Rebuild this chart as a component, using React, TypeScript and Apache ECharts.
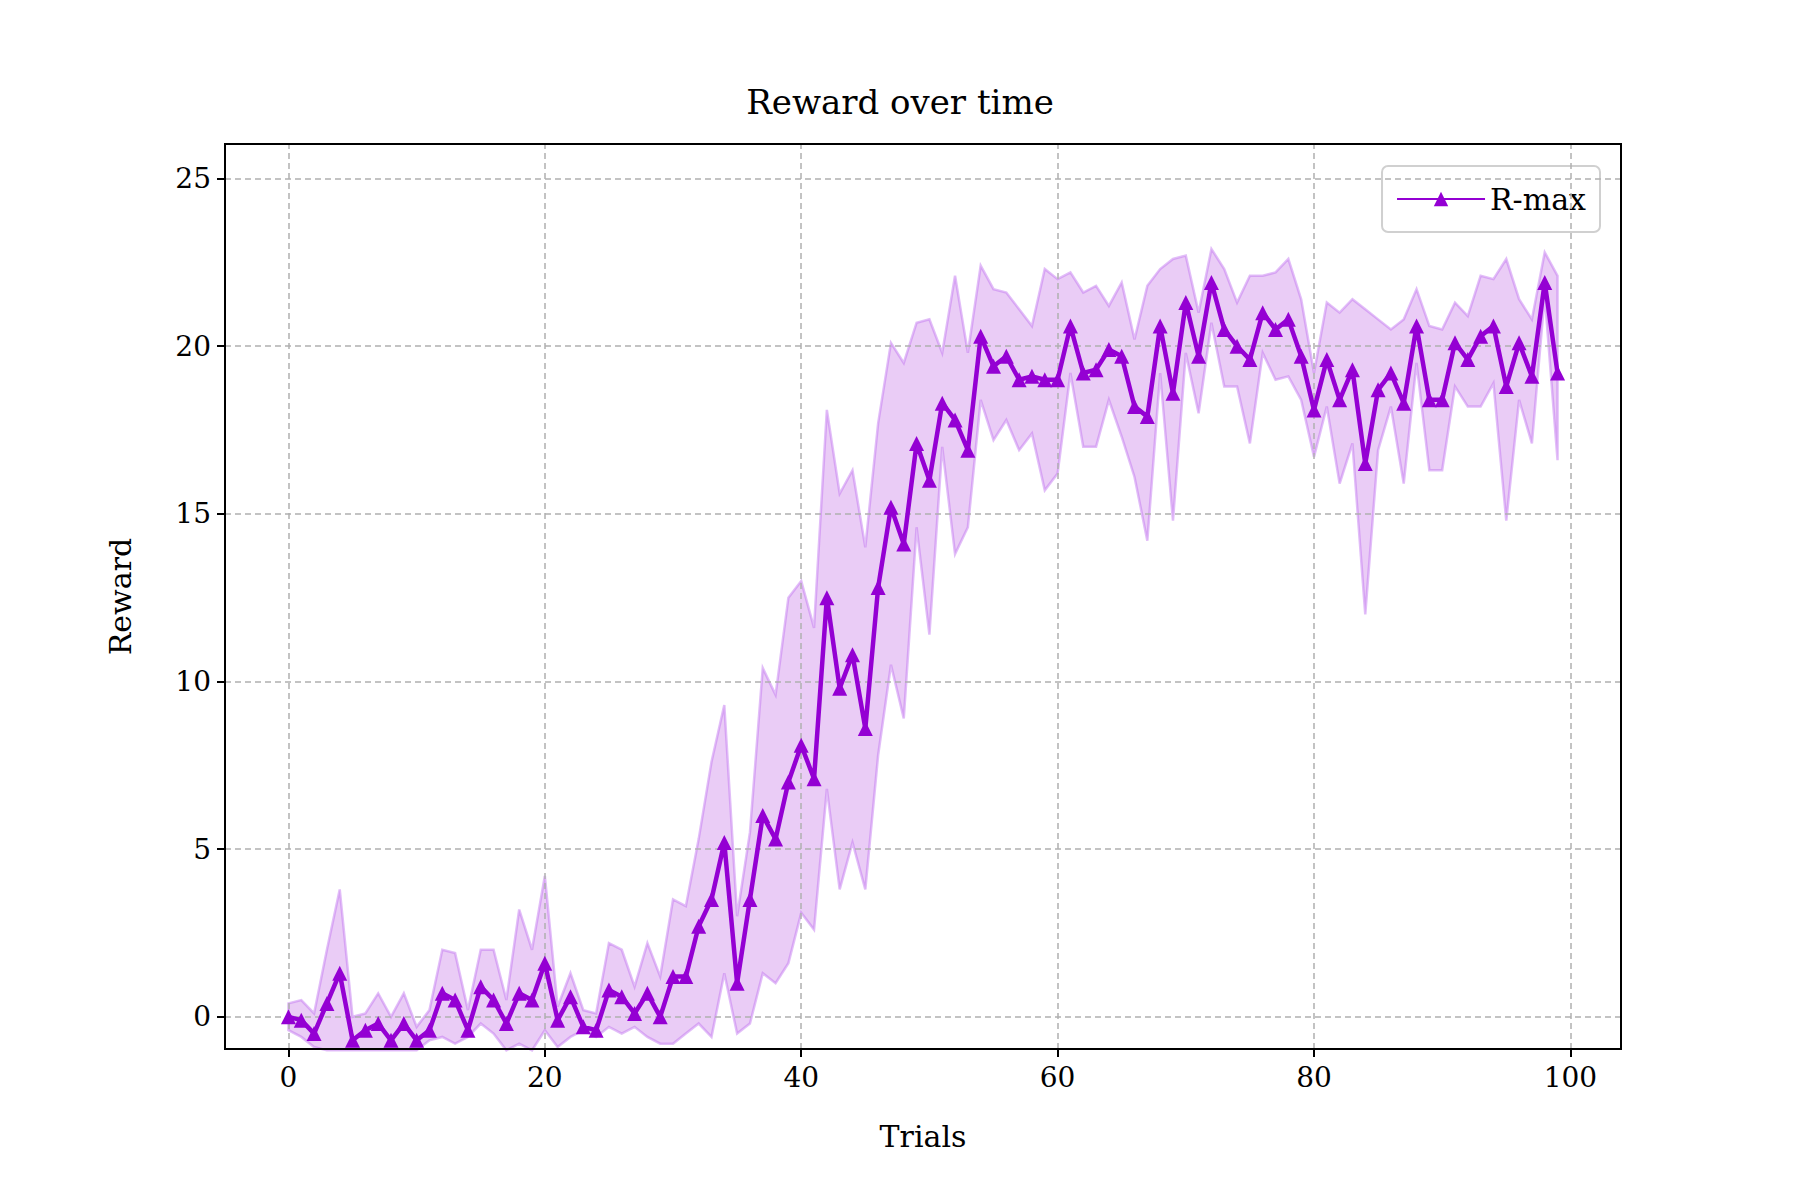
import React, { useEffect, useRef } from "react";
import * as echarts from "echarts";

const trials = Array.from({ length: 100 }, (_, i) => i);
const meanReward = [0,-0.1,-0.5,0.4,1.3,-0.7,-0.4,-0.2,-0.7,-0.2,-0.7,-0.4,0.7,0.5,-0.4,0.9,0.5,-0.2,0.7,0.5,1.6,-0.1,0.6,-0.3,-0.4,0.8,0.6,0.1,0.7,0,1.2,1.2,2.7,3.5,5.2,1.0,3.5,6.0,5.3,7.0,8.1,7.1,12.5,9.8,10.8,8.6,12.8,15.2,14.1,17.1,16.0,18.3,17.8,16.9,20.3,19.4,19.7,19.0,19.1,19.0,19.0,20.6,19.2,19.3,19.9,19.7,18.2,17.9,20.6,18.6,21.3,19.7,21.9,20.5,20.0,19.6,21.0,20.5,20.8,19.7,18.1,19.6,18.4,19.3,16.5,18.7,19.2,18.3,20.6,18.4,18.4,20.1,19.6,20.3,20.6,18.8,20.1,19.1,21.9,19.2];
const upperBand = [0.4,0.5,0.1,2.0,3.8,0,0.1,0.7,0,0.7,-0.3,0.2,2,1.9,0.2,2,2,0.5,3.2,2,4.2,0.3,1.3,0.2,0.1,2.2,2,0.9,2.2,1.2,3.5,3.3,5.3,7.6,9.3,3,5.5,10.4,9.6,12.5,13,11.6,18.1,15.6,16.3,14,17.7,20.1,19.5,20.7,20.8,19.8,22.1,19.8,22.4,21.7,21.6,21.1,20.6,22.3,22,22.2,21.6,21.8,21.2,21.9,20.2,21.8,22.3,22.6,22.7,21,22.9,22.3,21.3,22.1,22.1,22.2,22.6,21.4,19.2,21.3,21,21.4,21.1,20.8,20.5,20.8,21.7,20.6,20.5,21.3,20.9,22.1,22,22.6,21.4,20.8,22.8,22.1];
const lowerBand = [-0.4,-0.6,-0.9,-1,-1,-1,-1,-1,-1,-1,-1,-0.7,-0.6,-0.8,-0.6,-0.2,-0.5,-1,-0.8,-1,-0.4,-0.9,-0.6,-0.4,-0.6,-0.3,-0.5,-0.3,-0.6,-0.8,-0.8,-0.5,-0.2,-0.6,1.3,-0.5,-0.2,1.3,1,1.6,3.1,2.6,6.8,3.8,5.2,3.8,7.8,10.5,8.9,14.6,11.4,17,13.8,14.6,18.4,17.2,17.8,16.9,17.4,15.7,16.2,19.2,17,17,18.4,17.3,16.1,14.2,19.2,14.8,19.8,18,20.7,18.8,18.8,17.1,19.8,19,19.1,18.4,16.7,18.2,15.9,17.1,12,16.9,18.2,15.9,19.5,16.3,16.3,18.8,18.2,18.2,18.9,14.8,18.4,17.1,21.5,16.6];
const xTicks = [0, 20, 40, 60, 80, 100];
const yTicks = [0, 5, 10, 15, 20, 25];

const FONT = "DejaVu Serif";
const MAIN = "#9400d3";
const G = { left: 225, right: 179, top: 144, bottom: 151 };

export default function App() {
  const ref = useRef<HTMLDivElement>(null);
  useEffect(() => {
    document.body.style.margin = "0";
    const chart = echarts.init(ref.current!, null, { renderer: "svg" });
    const pair = (arr: number[]) => trials.map((t, i) => [t, arr[i]]);
    const gridStyle = { color: "#b0b0b0", type: [6, 4], width: 1.5 };
    chart.setOption({
      animation: false,
      backgroundColor: "#fff",
      title: {
        text: "Reward over time",
        left: "center",
        top: 80,
        textStyle: { fontFamily: FONT, fontSize: 34, fontWeight: "normal", color: "#000" },
      },
      legend: {
        data: ["R-max"],
        right: 200,
        top: 166,
        padding: [18, 14, 18, 14],
        borderColor: "#d0d0d0",
        borderWidth: 2,
        borderRadius: 6,
        itemWidth: 88,
        itemHeight: 18,
        textStyle: { fontFamily: FONT, fontSize: 30, color: "#000" },
      },
      grid: G,
      xAxis: {
        type: "value",
        min: -4.95,
        max: 103.95,
        interval: 20,
        axisLine: { show: true, onZero: false, lineStyle: { color: "#000", width: 2 } },
        axisTick: { show: true, customValues: xTicks, length: 8, lineStyle: { color: "#000", width: 2 } },
        axisLabel: { customValues: xTicks, fontFamily: FONT, fontSize: 28, color: "#000", margin: 14 },
        splitLine: { show: false },
        name: "Trials",
        nameLocation: "middle",
        nameGap: 72,
        nameTextStyle: { fontFamily: FONT, fontSize: 30, color: "#000" },
      },
      yAxis: {
        type: "value",
        min: -0.96,
        max: 26.03,
        axisLine: { show: true, onZero: false, lineStyle: { color: "#000", width: 2 } },
        axisTick: { show: true, customValues: yTicks, length: 8, lineStyle: { color: "#000", width: 2 } },
        axisLabel: { customValues: yTicks, fontFamily: FONT, fontSize: 28, color: "#000", margin: 14 },
        splitLine: { show: false },
        name: "Reward",
        nameLocation: "middle",
        nameGap: 90,
        nameRotate: 90,
        nameTextStyle: { fontFamily: FONT, fontSize: 30, color: "#000" },
      },
      series: [
        {
          type: "line", name: "grid", silent: true, symbol: "none", data: [],
          markLine: {
            silent: true, symbol: "none", label: { show: false },
            lineStyle: gridStyle,
            data: [...xTicks.map((v) => ({ xAxis: v })), ...yTicks.map((v) => ({ yAxis: v }))],
          },
        },
        {
          type: "custom", name: "band", silent: true,
          data: trials.map((t, i) => [t, lowerBand[i], upperBand[i]]),
          renderItem: (params: any, api: any) => {
            if (params.dataIndex !== 0) return null;
            const top = trials.map((t, i) => api.coord([t, upperBand[i]]));
            const bot = trials.map((t, i) => api.coord([t, lowerBand[i]])).reverse();
            return {
              type: "polygon",
              shape: { points: top.concat(bot) },
              style: { fill: "rgba(148,0,211,0.2)", stroke: "rgba(190,110,240,0.45)", lineWidth: 2.5 },
            };
          },
          z: 2,
        },
        {
          type: "line", name: "R-max", data: pair(meanReward),
          symbol: "triangle", symbolSize: 15,
          lineStyle: { color: MAIN, width: 4.5 }, itemStyle: { color: MAIN },
          z: 5,
        },
      ],
      graphic: [
        { type: "rect", shape: { x: G.left, y: G.top, width: 1800 - G.left - G.right, height: 1200 - G.top - G.bottom }, style: { fill: "none", stroke: "#000", lineWidth: 2 }, silent: true, z: 10 },
      ],
    });
    return () => chart.dispose();
  }, []);
  return <div ref={ref} style={{ width: 1800, height: 1200 }} />;
}
